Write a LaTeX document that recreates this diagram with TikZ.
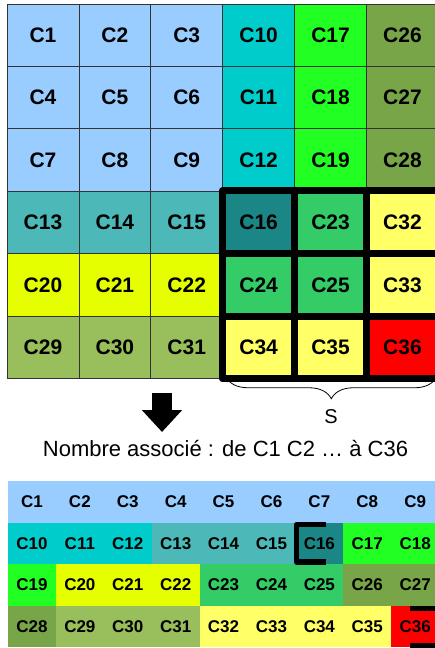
\documentclass[tikz,border=0pt]{standalone}
\usepackage{fontspec}
\setmainfont{Liberation Sans}
\usetikzlibrary{arrows.meta,decorations.pathreplacing}
\definecolor{bluec}{HTML}{99CCFF}
\definecolor{cyanc}{HTML}{00CCCC}
\definecolor{tealc}{HTML}{4CB8B8}
\definecolor{darktealc}{HTML}{1A8686}
\definecolor{limec}{HTML}{22FF22}
\definecolor{olivec}{HTML}{78A547}
\definecolor{greenc}{HTML}{33CC66}
\definecolor{yellowc}{HTML}{E6FF00}
\definecolor{sagec}{HTML}{99BF5C}
\definecolor{paleyc}{HTML}{FFFF66}
\definecolor{redc}{HTML}{FF0000}
\definecolor{gridc}{HTML}{333333}
\begin{document}
\begin{tikzpicture}[x=1pt, y=-1pt,
  big/.style={minimum width=71.9pt, minimum height=62.4pt, inner sep=0pt, draw=gridc, line width=0.7pt, font=\fontsize{21}{25}\selectfont\bfseries},
  small/.style={minimum width=47.9pt, minimum height=41.6pt, inner sep=0pt, font=\fontsize{17}{20}\selectfont\bfseries},
  bold line/.style={line width=7pt, line join=round, draw=black},
  bracket/.style={line width=5.5pt, line join=round, draw=black}]
\useasboundingbox (0,0) rectangle (435,648);
\fill[white] (0,0) rectangle (435,648);
\clip (0,0) rectangle (435,648);
% grid of cells
\node[big, fill=bluec] (t1) at (42.95,35.2) {C1};
\node[big, fill=bluec] (t2) at (114.85,35.2) {C2};
\node[big, fill=bluec] (t3) at (186.75,35.2) {C3};
\node[big, fill=cyanc] (t10) at (258.65,35.2) {C10};
\node[big, fill=limec] (t17) at (330.55,35.2) {C17};
\node[big, fill=olivec] (t26) at (402.45,35.2) {C26};
\node[big, fill=bluec] (t4) at (42.95,97.6) {C4};
\node[big, fill=bluec] (t5) at (114.85,97.6) {C5};
\node[big, fill=bluec] (t6) at (186.75,97.6) {C6};
\node[big, fill=cyanc] (t11) at (258.65,97.6) {C11};
\node[big, fill=limec] (t18) at (330.55,97.6) {C18};
\node[big, fill=olivec] (t27) at (402.45,97.6) {C27};
\node[big, fill=bluec] (t7) at (42.95,160.0) {C7};
\node[big, fill=bluec] (t8) at (114.85,160.0) {C8};
\node[big, fill=bluec] (t9) at (186.75,160.0) {C9};
\node[big, fill=cyanc] (t12) at (258.65,160.0) {C12};
\node[big, fill=limec] (t19) at (330.55,160.0) {C19};
\node[big, fill=olivec] (t28) at (402.45,160.0) {C28};
\node[big, fill=tealc] (t13) at (42.95,222.4) {C13};
\node[big, fill=tealc] (t14) at (114.85,222.4) {C14};
\node[big, fill=tealc] (t15) at (186.75,222.4) {C15};
\node[big, fill=darktealc] (t16) at (258.65,222.4) {C16};
\node[big, fill=greenc] (t23) at (330.55,222.4) {C23};
\node[big, fill=paleyc] (t32) at (402.45,222.4) {C32};
\node[big, fill=yellowc] (t20) at (42.95,284.8) {C20};
\node[big, fill=yellowc] (t21) at (114.85,284.8) {C21};
\node[big, fill=yellowc] (t22) at (186.75,284.8) {C22};
\node[big, fill=greenc] (t24) at (258.65,284.8) {C24};
\node[big, fill=greenc] (t25) at (330.55,284.8) {C25};
\node[big, fill=paleyc] (t33) at (402.45,284.8) {C33};
\node[big, fill=sagec] (t29) at (42.95,347.2) {C29};
\node[big, fill=sagec] (t30) at (114.85,347.2) {C30};
\node[big, fill=sagec] (t31) at (186.75,347.2) {C31};
\node[big, fill=paleyc] (t34) at (258.65,347.2) {C34};
\node[big, fill=paleyc] (t35) at (330.55,347.2) {C35};
\node[big, fill=redc] (t36) at (402.45,347.2) {C36};
% block S
\draw[bold line] (t16.north west) rectangle (t36.south east);
\draw[bold line] (t16.north east) -- (t34.south east);
\draw[bold line] (t23.north east) -- (t35.south east);
\draw[bold line] (t16.south west) -- (t32.south east);
\draw[bold line] (t24.south west) -- (t33.south east);
\draw[decorate, decoration={brace, amplitude=22pt}, line width=0.8pt] ([xshift=-2pt, yshift=2pt]t36.south east) -- ([xshift=3.5pt, yshift=2pt]t34.south west);
\node[font=\fontsize{20}{24}\selectfont] (S) at (331,417) {S};
% arrow and text
\coordinate (from) at (162,393);
\coordinate (to) at (162,432);
\draw[line width=20pt, -{Triangle[width=39pt, length=22pt]}] (from) -- (to);
\node[font=\fontsize{22}{26}\selectfont] (nb) at (225.5,449) {Nombre associé : de C1 C2 … à C36};
% row of numbers
\node[small, fill=bluec] (b1) at (31.95,501.8) {C1};
\node[small, fill=bluec] (b2) at (79.85,501.8) {C2};
\node[small, fill=bluec] (b3) at (127.75,501.8) {C3};
\node[small, fill=bluec] (b4) at (175.65,501.8) {C4};
\node[small, fill=bluec] (b5) at (223.55,501.8) {C5};
\node[small, fill=bluec] (b6) at (271.45,501.8) {C6};
\node[small, fill=bluec] (b7) at (319.35,501.8) {C7};
\node[small, fill=bluec] (b8) at (367.25,501.8) {C8};
\node[small, fill=bluec] (b9) at (415.15,501.8) {C9};
\node[small, fill=cyanc] (b10) at (31.95,543.4) {C10};
\node[small, fill=cyanc] (b11) at (79.85,543.4) {C11};
\node[small, fill=cyanc] (b12) at (127.75,543.4) {C12};
\node[small, fill=tealc] (b13) at (175.65,543.4) {C13};
\node[small, fill=tealc] (b14) at (223.55,543.4) {C14};
\node[small, fill=tealc] (b15) at (271.45,543.4) {C15};
\node[small, fill=darktealc] (b16) at (319.35,543.4) {C16};
\node[small, fill=limec] (b17) at (367.25,543.4) {C17};
\node[small, fill=limec] (b18) at (415.15,543.4) {C18};
\node[small, fill=limec] (b19) at (31.95,585.0) {C19};
\node[small, fill=yellowc] (b20) at (79.85,585.0) {C20};
\node[small, fill=yellowc] (b21) at (127.75,585.0) {C21};
\node[small, fill=yellowc] (b22) at (175.65,585.0) {C22};
\node[small, fill=greenc] (b23) at (223.55,585.0) {C23};
\node[small, fill=greenc] (b24) at (271.45,585.0) {C24};
\node[small, fill=greenc] (b25) at (319.35,585.0) {C25};
\node[small, fill=olivec] (b26) at (367.25,585.0) {C26};
\node[small, fill=olivec] (b27) at (415.15,585.0) {C27};
\node[small, fill=olivec] (b28) at (31.95,626.6) {C28};
\node[small, fill=sagec] (b29) at (79.85,626.6) {C29};
\node[small, fill=sagec] (b30) at (127.75,626.6) {C30};
\node[small, fill=sagec] (b31) at (175.65,626.6) {C31};
\node[small, fill=paleyc] (b32) at (223.55,626.6) {C32};
\node[small, fill=paleyc] (b33) at (271.45,626.6) {C33};
\node[small, fill=paleyc] (b34) at (319.35,626.6) {C34};
\node[small, fill=paleyc] (b35) at (367.25,626.6) {C35};
\node[small, fill=redc] (b36) at (415.15,626.6) {C36};
% brackets
\draw[bracket] ([shift={(31,2)}]b16.north west) -- ([shift={(1.5,2)}]b16.north west) -- ([shift={(1.5,-2.5)}]b16.south west) -- ([shift={(31,-2.5)}]b16.south west);
\draw[bracket] ([shift={(19,3)}]b36.north west) -- ([shift={(10,3)}]b36.north east) -- ([shift={(10,-1.5)}]b36.south east) -- ([shift={(19,-1.5)}]b36.south west);
\end{tikzpicture}
\end{document}
